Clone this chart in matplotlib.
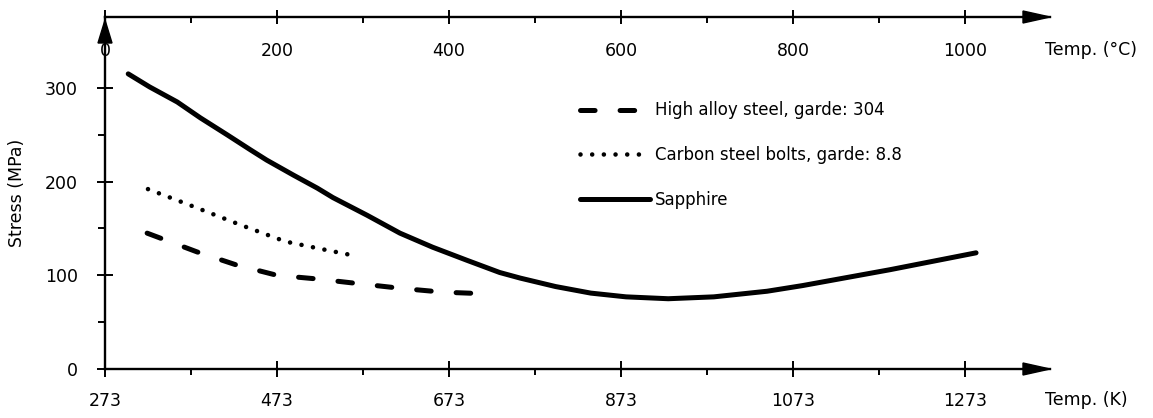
import matplotlib
matplotlib.use('Agg')
import matplotlib.pyplot as plt
from matplotlib.patches import Polygon

plt.rcParams['font.family'] = ['DejaVu Sans']
plt.rcParams['lines.scale_dashes'] = False

# data (temperature in K, stress in MPa)
sapphire_T = [300, 325, 357, 384, 415, 442, 461, 492, 520, 538, 578, 616, 654,
              694, 732, 756, 797, 838, 879, 928, 981, 1043, 1084, 1186, 1286]
sapphire_S = [315, 301, 285, 268, 250, 234, 223, 207, 193, 183, 164, 145, 130,
              116, 103, 97, 88, 81, 77, 75, 77, 83, 89, 106, 124]

alloy_T = [322, 380, 426, 473, 521, 569, 618, 666, 724]
alloy_S = [145, 125, 111, 100, 96, 91, 86, 82, 80]

bolts_T = [323, 377, 430, 483, 525, 568]
bolts_S = [192, 173, 154, 136, 128, 120]

k_ticks = [273, 473, 673, 873, 1073, 1273]
k_minor = [373, 573, 773, 973, 1173]
c_ticks = [0, 200, 400, 600, 800, 1000]
c_minor = [100, 300, 500, 700, 900]
y_ticks = [0, 100, 200, 300]
y_minor = [50, 150, 250]

x_max = 1372
y_max = 375.7

fig = plt.figure(figsize=(11.53, 4.18), dpi=100)
ax = fig.add_axes([105 / 1153, 49 / 418, 945 / 1153, 352 / 418])
ax2 = ax.twiny()

ax.plot(alloy_T, alloy_S, color='black', lw=3.6, dash_capstyle='round',
        linestyle=(0, (10.5, 18)), label='High alloy steel, garde: 304')
ax.plot(bolts_T, bolts_S, color='black', lw=3.3, dash_capstyle='round',
        linestyle=(0, (0.01, 8.4)), label='Carbon steel bolts, garde: 8.8')
ax.plot(sapphire_T, sapphire_S, color='black', lw=3.6, solid_capstyle='round',
        solid_joinstyle='round', label='Sapphire')

ax.set_xlim(273, x_max)
ax.set_ylim(0, y_max)
ax2.set_xlim(0, x_max - 273)

for s in ['top', 'right']:
    ax.spines[s].set_visible(False)
for s in ['bottom', 'right', 'left']:
    ax2.spines[s].set_visible(False)
for a, s in [(ax, 'left'), (ax, 'bottom'), (ax2, 'top')]:
    a.spines[s].set_linewidth(1.7)

ax.set_xticks(k_ticks)
ax.set_xticks(k_minor, minor=True)
ax.set_yticks(y_ticks)
ax.set_yticks(y_minor, minor=True)
ax2.set_xticks(c_ticks)
ax2.set_xticks(c_minor, minor=True)

ax.tick_params(axis='x', which='major', direction='inout', length=12.2, width=1.4,
               pad=10.5, labelsize=12.5)
ax.tick_params(axis='x', which='minor', direction='out', length=4.3, width=1.4)
ax.tick_params(axis='y', which='major', direction='inout', length=11.5, width=1.4,
               pad=13.7, labelsize=12.5)
ax.tick_params(axis='y', which='minor', direction='out', length=4.7, width=1.4)
ax2.tick_params(axis='x', which='major', direction='inout', length=10, width=1.4,
                pad=-36, labelsize=12.5)
ax2.tick_params(axis='x', which='minor', direction='in', length=4.3, width=1.4)

ax.set_xlabel('Temp. (K)', fontsize=12.5, ha='left', va='center')
ax.xaxis.set_label_coords(0.9947, -0.088)
ax2.set_xlabel('Temp. (°C)', fontsize=12.5, ha='left', va='center')
ax2.xaxis.set_label_coords(0.9947, 0.906)
ax.set_ylabel('Stress (MPa)', fontsize=12.5, labelpad=14)

# arrow heads on the axes
aw, ah = 945.0, 352.0
for yy in (0, 1):
    ax.add_patch(Polygon([(1, yy), (1 - 27 / aw, yy + 6 / ah), (1 - 27 / aw, yy - 6 / ah)],
                         closed=True, color='black', transform=ax.transAxes, clip_on=False))
ax.add_patch(Polygon([(0, 349 / ah), (-7 / aw, 326 / ah), (7 / aw, 326 / ah)],
                     closed=True, color='black', transform=ax.transAxes, clip_on=False))

ax.legend(loc='upper left', bbox_to_anchor=(0.5026, 0.760), frameon=False,
          fontsize=12, handlelength=4.2, handletextpad=0.3, labelspacing=1.6,
          borderpad=0, borderaxespad=0)

fig.savefig('out.png', dpi=100)
